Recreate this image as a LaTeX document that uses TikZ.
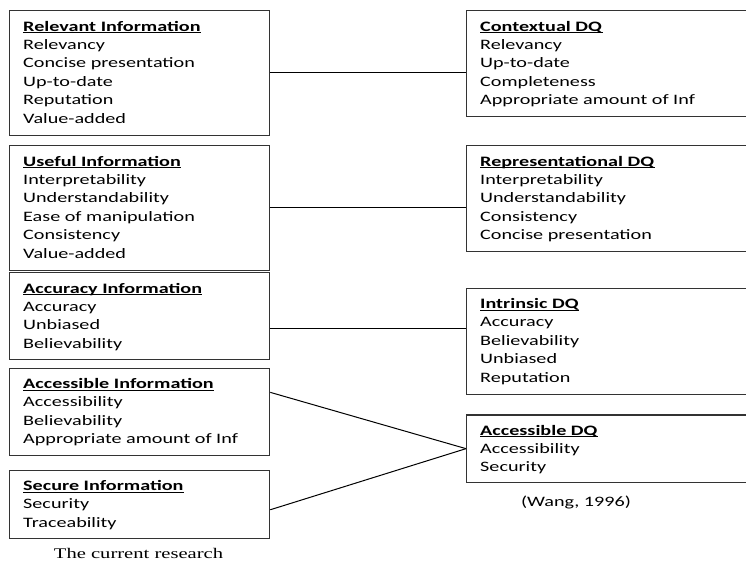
\documentclass[tikz,border=0pt]{standalone}
\usepackage{fontspec}
\setmainfont{Carlito}[FakeStretch=1.4]
\newfontfamily\capfont{Liberation Serif}[FakeStretch=1.4]
\newfontfamily\wangfont{Carlito}[FakeStretch=1.4]
\usetikzlibrary{calc}
\newsavebox{\hdrbox}
\newcommand{\hdr}[1]{\leavevmode\sbox{\hdrbox}{\textbf{#1}}\rlap{\rule[-2.4pt]{\wd\hdrbox}{1.1pt}}\usebox{\hdrbox}}
\tikzset{
  box/.style={draw=black!80, line width=1.3pt, rectangle, inner sep=0pt, anchor=north west},
  txt/.style={inner sep=0pt, anchor=base west, font=\fontsize{14.4pt}{18.4pt}\selectfont},
  conn/.style={draw=black, line width=1pt},
}
\begin{document}
\begin{tikzpicture}[x=1pt,y=-1pt]
\useasboundingbox (0,0) rectangle (746,565);
\clip (0,0) rectangle (746,565);
% left boxes
\node[box, minimum width=260pt, minimum height=124.5pt] (L1) at (9,10) {};
\node[box, minimum width=260pt, minimum height=124.5pt] (L2) at (9,145) {};
\node[box, minimum width=260pt, minimum height=86.5pt] (L3) at (9,272) {};
\node[box, minimum width=260pt, minimum height=87.5pt] (L4) at (9,367.5) {};
\node[box, minimum width=260pt, minimum height=67.7pt] (L5) at (9,470) {};
% right boxes
\node[box, minimum width=300pt, minimum height=106pt] (R1) at (466,10) {};
\node[box, minimum width=300pt, minimum height=106pt] (R2) at (466,145) {};
\node[box, minimum width=300pt, minimum height=106.5pt] (R3) at (466,287.5) {};
\node[box, minimum width=300pt, minimum height=67.4pt] (R4) at (466,414.3) {};
% texts
\node[txt] (tL1) at (23,31) {\parbox[t]{240pt}{\hdr{Relevant Information}\\Relevancy\\Concise presentation\\Up-to-date\\Reputation\\Value-added}};
\node[txt] (tL2) at (23,166) {\parbox[t]{240pt}{\hdr{Useful Information}\\Interpretability\\Understandability\\Ease of manipulation\\Consistency\\Value-added}};
\node[txt] (tL3) at (23,293) {\parbox[t]{240pt}{\hdr{Accuracy Information}\\Accuracy\\Unbiased\\Believability}};
\node[txt] (tL4) at (23,388.5) {\parbox[t]{240pt}{\hdr{Accessible Information}\\Accessibility\\Believability\\Appropriate amount of Inf}};
\node[txt] (tL5) at (23,490.5) {\parbox[t]{240pt}{\hdr{Secure Information}\\Security\\Traceability}};
\node[txt] (tR1) at (480,31) {\parbox[t]{260pt}{\hdr{Contextual DQ}\\Relevancy\\Up-to-date\\Completeness\\Appropriate amount of Inf}};
\node[txt] (tR2) at (480,166) {\parbox[t]{260pt}{\hdr{Representational DQ}\\Interpretability\\Understandability\\Consistency\\Concise presentation}};
\node[txt] (tR3) at (480,308.5) {\parbox[t]{260pt}{\hdr{Intrinsic DQ}\\Accuracy\\Believability\\Unbiased\\Reputation}};
\node[txt] (tR4) at (480,435) {\parbox[t]{260pt}{\hdr{Accessible DQ}\\Accessibility\\Security}};
% captions
\node[inner sep=0pt, anchor=base, font=\capfont\fontsize{14.7pt}{17pt}\selectfont] (cap1) at (138.5,558) {The current research};
\node[inner sep=0pt, anchor=base, font=\wangfont\fontsize{14.4pt}{17pt}\selectfont] (cap2) at (576,506) {(Wang, 1996)};
% connectors
\coordinate (a3) at ($(L3.north east)!0.642!(L3.south east)$);
\coordinate (a4) at ($(L4.north east)!0.28!(L4.south east)$);
\coordinate (a5) at ($(L5.north east)!0.576!(L5.south east)$);
\coordinate (b4) at (R4.west);
\draw[conn] (L1.east) -- (L1.east -| R1.west);
\draw[conn] (L2.east) -- (L2.east -| R2.west);
\draw[conn] (a3) -- (a3 -| R3.west);
\draw[conn] (a4) -- (b4);
\draw[conn] (a5) -- (b4);
\end{tikzpicture}
\end{document}
